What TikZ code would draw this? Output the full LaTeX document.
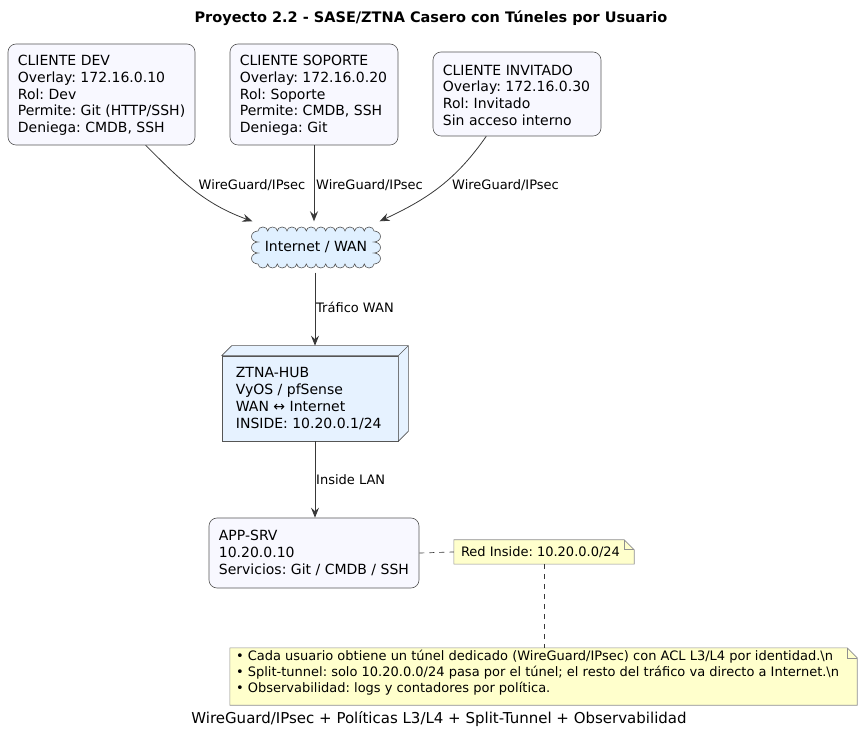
\documentclass[tikz,border=0pt]{standalone}
\usepackage{fontspec}
\setmainfont{DejaVu Sans}
\usetikzlibrary{arrows.meta,calc}
\definecolor{boxfill}{HTML}{F8F8FF}
\definecolor{boxdraw}{HTML}{555555}
\definecolor{cloudfill}{HTML}{E0F0FF}
\definecolor{hubfill}{HTML}{E6F2FF}
\definecolor{notefill}{HTML}{FFFFCC}
\definecolor{notedraw}{HTML}{8F8F8F}
\definecolor{linecol}{HTML}{383838}
\begin{document}
\frenchspacing
\begin{tikzpicture}[x=1pt,y=1pt,
  client/.style={draw=boxdraw, fill=boxfill, line width=0.6pt, rounded corners=8pt, inner sep=0pt},
  ctext/.style={anchor=west, inner sep=0pt, align=left, font=\fontsize{14}{16.7}\selectfont},
  hubbox/.style={draw=boxdraw, fill=hubfill, line width=0.6pt, inner sep=0pt},
  notebox/.style={inner sep=0pt},
  notetext/.style={anchor=west, inner sep=0pt, align=left},
  notedeco/.style={draw=notedraw, fill=notefill, line width=0.6pt},
  lbl/.style={inner sep=0pt, font=\fontsize{13}{15}\selectfont},
  conn/.style={draw=linecol, line width=0.8pt, -{Stealth[length=10pt,width=8pt,inset=3.5pt]}},
  dotted link/.style={draw=linecol, line width=0.7pt, dash pattern=on 5pt off 5pt},
]
\useasboundingbox (0,0) rectangle (862,734);

% title
\node[font=\bfseries\fontsize{14.5}{17}\selectfont] (title) at (431,716) {Proyecto 2.2 - SASE/ZTNA Casero con Túneles por Usuario};

% clients
\node[client, minimum width=187pt, minimum height=101pt] (dev) at (101.5,639.5) {};
\node[ctext] (devt) at ($(dev.west)+(10,-1)$)
  {CLIENTE DEV\\Overlay: 172.16.0.10\\Rol: Dev\\Permite: Git (HTTP/SSH)\\Deniega: CMDB, SSH};
\node[client, minimum width=168pt, minimum height=101pt] (sop) at (314,639.5) {};
\node[ctext] (sopt) at ($(sop.west)+(10,-1)$)
  {CLIENTE SOPORTE\\Overlay: 172.16.0.20\\Rol: Soporte\\Permite: CMDB, SSH\\Deniega: Git};
\node[client, minimum width=168pt, minimum height=84pt] (inv) at (517,640) {};
\node[ctext] (invt) at ($(inv.west)+(10,-1)$)
  {CLIENTE INVITADO\\Overlay: 172.16.0.30\\Rol: Invitado\\Sin acceso interno};

% cloud
\draw[draw=boxdraw, fill=cloudfill, line width=0.6pt] (258,503)
  \foreach \i in {1,...,12}{ arc[start angle=180, end angle=0, x radius=4.833, y radius=4] }
  \foreach \i in {1,2,3}{ arc[start angle=90, end angle=-90, x radius=6.5, y radius=5.5] }
  \foreach \i in {1,...,12}{ arc[start angle=0, end angle=-180, x radius=4.833, y radius=4] }
  \foreach \i in {1,2,3}{ arc[start angle=270, end angle=90, x radius=6.5, y radius=5.5] }
  -- cycle;
\node[minimum width=144pt, minimum height=51pt, inner sep=0pt, font=\fontsize{14}{17}\selectfont] (cloud) at (316,487) {Internet / WAN};

% hub
\node[hubbox, minimum width=176pt, minimum height=85pt] (hub) at (310,335.5) {};
\draw[draw=boxdraw, fill=hubfill, line width=0.6pt, line join=round]
  (hub.north west) -- ++(10,10) -- ($(hub.north east)+(10,10)$) -- ($(hub.south east)+(10,10)$)
  -- (hub.south east) -- (hub.north east) -- cycle;
\draw[draw=boxdraw, line width=0.6pt] (hub.north east) -- ++(10,10);
\node[ctext] (hubt) at ($(hub.west)+(14,0)$)
  {ZTNA-HUB\\VyOS / pfSense\\WAN ↔ Internet\\INSIDE: 10.20.0.1/24};
\coordinate (hubtop) at ($(hub.north)+(5,10)$);
\coordinate (hubbot) at ($(hub.south)+(5,0)$);

% app server
\node[client, minimum width=210pt, minimum height=70pt] (app) at (314,181) {};
\node[ctext] (appt) at ($(app.west)+(10,0)$)
  {APP-SRV\\10.20.0.10\\Servicios: Git / CMDB / SSH};

% notes
\node[notebox, minimum width=180pt, minimum height=24pt] (rnote) at (544,182) {};
\draw[notedeco] (rnote.north west) -- ($(rnote.north east)+(-10,0)$) -- ($(rnote.north east)+(0,-10)$)
  -- (rnote.south east) -- (rnote.south west) -- cycle;
\draw[notedeco, fill=none] ($(rnote.north east)+(-10,0)$) -- ($(rnote.north east)+(-10,-10)$) -- ($(rnote.north east)+(0,-10)$);
\node[notetext, font=\fontsize{13}{16}\selectfont] (rnotet) at ($(rnote.west)+(7,0)$) {Red Inside: 10.20.0.0/24};

\node[notebox, minimum width=627pt, minimum height=57pt] (bnote) at (543.5,57.5) {};
\draw[notedeco] (bnote.north west) -- ($(bnote.north east)+(-10,0)$) -- ($(bnote.north east)+(0,-10)$)
  -- (bnote.south east) -- (bnote.south west) -- cycle;
\draw[notedeco, fill=none] ($(bnote.north east)+(-10,0)$) -- ($(bnote.north east)+(-10,-10)$) -- ($(bnote.north east)+(0,-10)$);
\node[notetext, font=\fontsize{13}{16}\selectfont] (bnotet) at ($(bnote.west)+(6,4)$)
  {• Cada usuario obtiene un túnel dedicado (WireGuard/IPsec) con ACL L3/L4 por identidad.\textbackslash n\\
   • Split-tunnel: solo 10.20.0.0/24 pasa por el túnel; el resto del tráfico va directo a Internet.\textbackslash n\\
   • Observabilidad: logs y contadores por política.};

% caption
\node[font=\fontsize{15}{17}\selectfont] (caption) at (439,15) {WireGuard/IPsec + Políticas L3/L4 + Split-Tunnel + Observabilidad};

% connectors
\draw[conn] (dev.-49) to[out=-45, in=160] (cloud.158);
\draw[conn] (sop.south) -- (sop.south |- cloud.north);
\draw[conn] (inv.234.5) to[out=-125, in=25] (cloud.22);
\draw[conn] (cloud.south -| hubtop) -- (hubtop);
\draw[conn] (hubbot) -- (hubbot |- app.north);
\draw[dotted link] (app.east) -- (rnote.west);
\draw[dotted link] (rnote.south) -- (rnote.south |- bnote.north);

% connector labels
\node[lbl] (l1) at (252,549) {WireGuard/IPsec};
\node[lbl, anchor=west] (l2) at (316,549) {WireGuard/IPsec};
\node[lbl, anchor=west] (l3) at (452,549) {WireGuard/IPsec};
\node[lbl, anchor=west] (l4) at (316,427) {Tráfico WAN};
\node[lbl, anchor=west] (l5) at (316,254) {Inside LAN};
\end{tikzpicture}
\end{document}
